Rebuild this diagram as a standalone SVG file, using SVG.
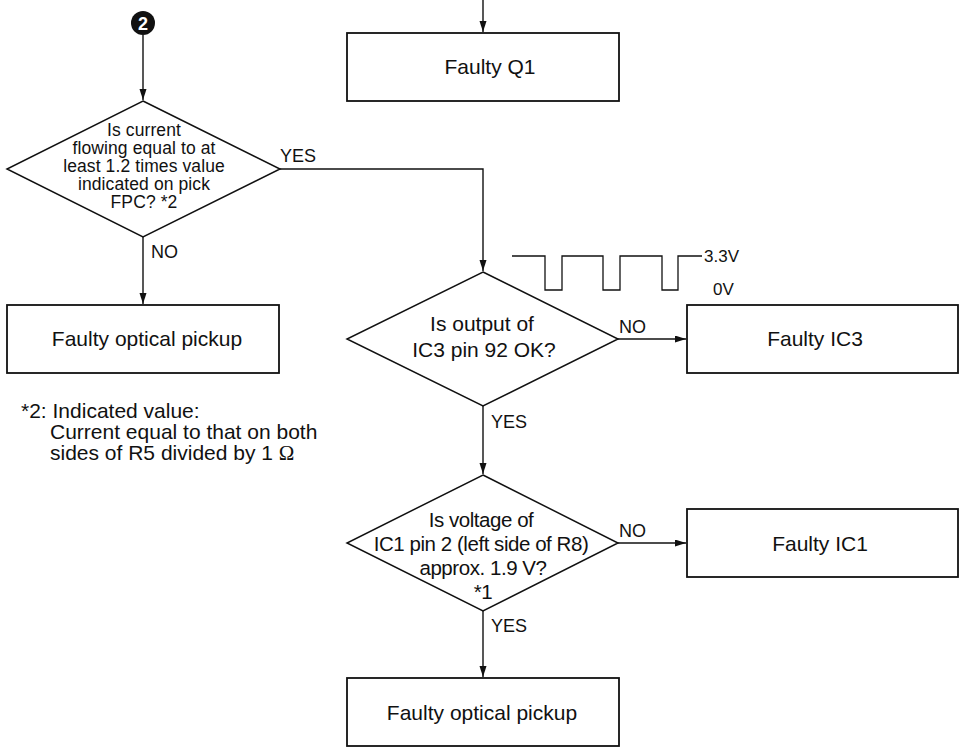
<svg xmlns="http://www.w3.org/2000/svg" width="960" height="751" viewBox="0 0 960 751">
<style>
  text { font-family: "Liberation Sans", Arial, sans-serif; fill: #111; }
  .box { fill: #fff; stroke: #111; stroke-width: 1.8; }
  .dia { fill: #fff; stroke: #111; stroke-width: 1.5; }
  .bt { font-size: 21px; text-anchor: middle; }
  .d1 { font-size: 17.5px; text-anchor: middle; letter-spacing: 0.1px; }
  .d2 { font-size: 21px; text-anchor: middle; }
  .d3 { font-size: 20.5px; text-anchor: middle; letter-spacing: -0.45px; }
  .lbl { font-size: 18px; }
  .v { font-size: 17px; }
  .fn { font-size: 21px; }
  .conn { fill: none; stroke: #111; stroke-width: 1.4; }
</style>
<defs>
  <marker id="arr" markerUnits="userSpaceOnUse" markerWidth="12" markerHeight="8" refX="11" refY="3.5" orient="auto">
    <path d="M0,0 L11,3.5 L0,7 z" fill="#111"/>
  </marker>
</defs>

<g id="connectors">
  <line class="conn" x1="143" y1="35" x2="143" y2="100" marker-end="url(#arr)"/>
  <line class="conn" x1="483" y1="0" x2="483" y2="32" marker-end="url(#arr)"/>
  <polyline class="conn" points="280,169 483,169 483,271" marker-end="url(#arr)"/>
  <line class="conn" x1="143" y1="237" x2="143" y2="304" marker-end="url(#arr)"/>
  <line class="conn" x1="618" y1="339" x2="686" y2="339" marker-end="url(#arr)"/>
  <line class="conn" x1="483" y1="406" x2="483" y2="474" marker-end="url(#arr)"/>
  <line class="conn" x1="618" y1="543" x2="686" y2="543" marker-end="url(#arr)"/>
  <line class="conn" x1="483" y1="611" x2="483" y2="677" marker-end="url(#arr)"/>
  <text class="lbl" x="280" y="162">YES</text>
  <text class="lbl" x="151" y="258">NO</text>
  <text class="lbl" x="619" y="333">NO</text>
  <text class="lbl" x="491" y="428">YES</text>
  <text class="lbl" x="619" y="537">NO</text>
  <text class="lbl" x="491" y="632">YES</text>
</g>

<g id="start2">
  <circle cx="143" cy="23" r="12" fill="#111"/>
  <text x="143" y="30" font-size="18" font-weight="bold" text-anchor="middle" style="fill:#fff">2</text>
</g>

<g id="faultyQ1">
  <rect class="box" x="347" y="33" width="272" height="68"/>
  <text class="bt" x="490" y="74">Faulty Q1</text>
</g>

<g id="decision1">
  <polygon class="dia" points="143,101 280,169 143,237 7,169"/>
  <text class="d1" x="144" y="136">Is current<tspan x="144" dy="18">flowing equal to at</tspan><tspan x="144" dy="18">least 1.2 times value</tspan><tspan x="144" dy="18">indicated on pick</tspan><tspan x="144" dy="18">FPC? *2</tspan></text>
</g>

<g id="faultyPickup1">
  <rect class="box" x="7" y="305" width="272" height="68"/>
  <text class="bt" x="147" y="346">Faulty optical pickup</text>
</g>

<g id="note2">
  <text class="fn" x="21" y="418">*2: Indicated value:<tspan x="50" dy="21">Current equal to that on both</tspan><tspan x="50" dy="21">sides of R5 divided by 1 </tspan><tspan font-family="'Liberation Serif', 'Times New Roman', serif">Ω</tspan></text>
</g>

<g id="waveform">
  <polyline fill="none" stroke="#111" stroke-width="1.3" points="512,256 545,256 545,290 562,290 562,256 603,256 603,290 620,290 620,256 662,256 662,290 678,290 678,256 702,256"/>
  <text class="v" x="704" y="262">3.3V</text>
  <text class="v" x="713" y="295">0V</text>
</g>

<g id="decision2">
  <polygon class="dia" points="483,272 618,339 483,406 347,339"/>
  <text class="d2" x="482" y="331">Is output of<tspan x="484" dy="26">IC3 pin 92 OK?</tspan></text>
</g>

<g id="faultyIC3">
  <rect class="box" x="687" y="305" width="271" height="68"/>
  <text class="bt" x="815" y="346">Faulty IC3</text>
</g>

<g id="decision3">
  <polygon class="dia" points="483,475 618,543 483,611 347,543"/>
  <text class="d3" x="481" y="527">Is voltage of<tspan x="481" dy="24">IC1 pin 2 (left side of R8)</tspan><tspan x="483" dy="24">approx. 1.9 V?</tspan><tspan x="483" dy="24">*1</tspan></text>
</g>

<g id="faultyIC1">
  <rect class="box" x="687" y="509" width="271" height="68"/>
  <text class="bt" x="820" y="551">Faulty IC1</text>
</g>

<g id="faultyPickup2">
  <rect class="box" x="347" y="678" width="272" height="68"/>
  <text class="bt" x="482" y="720">Faulty optical pickup</text>
</g>
</svg>
